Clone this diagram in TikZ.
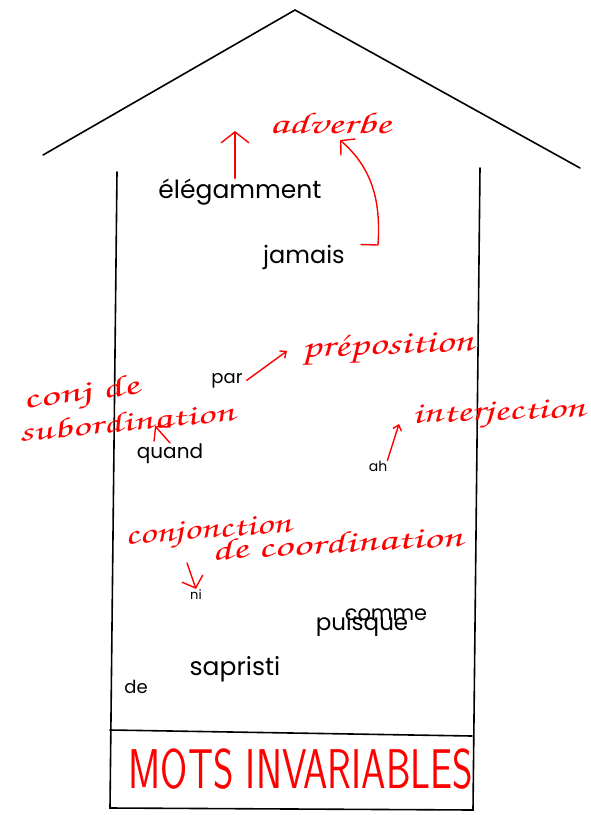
\documentclass[tikz,border=0pt]{standalone}
\usepackage[T1]{fontenc}
\usepackage{fontspec}
\newfontfamily\wordfont{Poppins}
\newcommand\handfont{\fontencoding{T1}\fontfamily{pzc}\fontseries{mb}\fontshape{it}\selectfont}
\usetikzlibrary{arrows.meta}
\tikzset{
  wall/.style={black, line width=1.6pt, line cap=round},
  word/.style={inner sep=0pt, anchor=base, font=\wordfont\fontsize{#1}{#1}\selectfont},
  hand/.style={red, inner sep=0pt, anchor=base, font=\handfont\fontsize{#1}{#1}\selectfont},
  caps/.style={red, inner sep=0pt, anchor=base, font=\sffamily\fontsize{#1}{#1}\selectfont},
  arr/.style={red, line width=1.4pt, line cap=round, line join=round},
  bigbarb/.style={-{Straight Barb[length=11pt,width=28pt]}},
  midbarb/.style={-{Straight Barb[length=10pt,width=22pt]}},
  tinybarb/.style={-{Straight Barb[length=5pt,width=9pt]}}
}
\begin{document}
\begin{tikzpicture}[x=1pt,y=-1pt]
\useasboundingbox (0,0) rectangle (590,815);
% house
\draw[wall] (43,155) -- (295,10) -- (580,168);
\draw[wall] (117,172) -- (110,808) -- (473,810) -- (480,168);
\draw[wall] (110,730) -- (472,736);
% black words
\node[word=25] (eleg) at (240,198) {élégamment};
\node[word=24] (jam) at (304,263) {jamais};
\node[word=18] (par) at (227,383) {par};
\node[word=20] (quand) at (170,458) {quand};
\node[word=14] (ah) at (378,471) {ah};
\node[word=13] (ni) at (196,599) {ni};
\node[word=21] (comme) at (386,620) {comme};
\node[word=23] (puis) at (362,630) {puisque};
\node[word=25] (sapr) at (235,675) {sapristi};
\node[word=18] (de) at (136,693) {de};
% red handwriting
\node[hand=30, xscale=1.5] (adv) at (330,133) {adverbe};
\node[hand=32, xscale=1.38, rotate=3] (prep) at (388,354) {pr\'eposition};
\node[hand=30, xscale=1.45, rotate=3] (interj) at (499,420) {interjection};
\node[hand=29, xscale=1.7, rotate=12] (conjde) at (83,401) {conj de};
\node[hand=28, xscale=1.6, rotate=9] (subord) at (128,431) {subordination};
\node[hand=30, xscale=1.38, rotate=6] (conjonc) at (209,538) {conjonction};
\node[hand=30, xscale=1.55, rotate=5] (decoord) at (338,553) {de coordination};
\node[caps=56, xscale=0.7] (mots) at (301,788) {MOTS INVARIABLES};
% arrows
\coordinate (advtipA) at (235,131);
\coordinate (advtipB) at (340,140);
\coordinate (preptip) at (287,351);
\coordinate (subtip) at (155,426);
\coordinate (intertip) at (399,424);
\coordinate (nitail) at (187,563);
\draw[arr, bigbarb] (eleg.north -| advtipA) -- (advtipA);
\draw[arr, midbarb] ([xshift=16pt]jam.north east) -- (378,245) .. controls (381,200) and (372,168) .. (advtipB);
\draw[arr, tinybarb] ([xshift=4pt]par.east) -- (preptip);
\draw[arr, midbarb] (quand.north) -- (subtip);
\draw[arr, tinybarb] (ah.north east) -- (intertip);
\draw[arr, midbarb] (nitail) -- (ni.north);
\end{tikzpicture}
\end{document}
